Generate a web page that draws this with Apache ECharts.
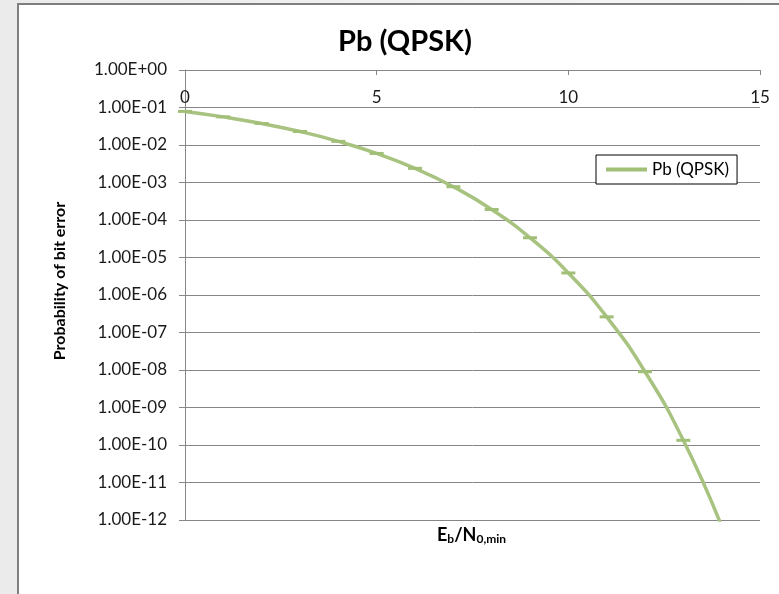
<!DOCTYPE html>
<html>
<head>
<meta charset="utf-8">
<script src="https://cdn.jsdelivr.net/npm/echarts@6/dist/echarts.min.js"></script>
<style>
  html, body { margin: 0; padding: 0; width: 779px; height: 594px; overflow: hidden;
    background: linear-gradient(to right, #ebebeb, #f6f6f6); }
  #frame { position: absolute; left: 17px; top: 3px; width: 800px; height: 650px;
    background: #fff; border: 2px solid #7f7f7f; }
  #chart { position: absolute; left: 0; top: 0; width: 779px; height: 594px; }
</style>
</head>
<body>
<div id="frame"></div>
<div id="chart"></div>
<script>
// Eb/N0 (dB)
const ebN0 = [0, 1, 2, 3, 4, 5, 6, 7, 8, 9, 10, 11, 12, 13, 14];
// Probability of bit error, QPSK
const pbQpsk = [7.865e-2, 5.628e-2, 3.751e-2, 2.288e-2, 1.250e-2, 5.954e-3, 2.388e-3,
  7.727e-4, 1.909e-4, 3.363e-5, 3.872e-6, 2.613e-7, 9.006e-9, 1.333e-10, 6.81e-13];
const yTickLabels = ['1.00E+00', '1.00E-01', '1.00E-02', '1.00E-03', '1.00E-04', '1.00E-05',
  '1.00E-06', '1.00E-07', '1.00E-08', '1.00E-09', '1.00E-10', '1.00E-11', '1.00E-12'];
const xTickLabels = ['0', '5', '10', '15'];

const FONT = 'Lato';
const chart = echarts.init(document.getElementById('chart'), null, { renderer: 'canvas' });
chart.setOption({
  backgroundColor: 'transparent',
  animation: false,
  title: {
    text: 'Pb (QPSK)',
    left: 400, top: 22, textAlign: 'center',
    textStyle: { fontFamily: FONT, fontSize: 29, fontWeight: 'bold', color: '#000' }
  },
  legend: {
    left: 596, top: 155,
    padding: [6, 8, 6, 10],
    borderColor: '#000', borderWidth: 1,
    backgroundColor: '#fff',
    itemWidth: 41, itemHeight: 4, icon: 'rect',
    textStyle: { fontFamily: FONT, fontSize: 17, color: '#000' },
    data: ['Pb (QPSK)']
  },
  grid: { left: 185, right: 19, top: 70, bottom: 74, containLabel: false },
  xAxis: {
    type: 'value', position: 'top', min: 0, max: 15, interval: 5,
    axisLine: { show: true, lineStyle: { color: '#868686', width: 1 } },
    axisTick: { show: true, inside: true, length: 5, lineStyle: { color: '#868686' } },
    axisLabel: { inside: true, margin: 19, fontFamily: FONT, fontSize: 17, color: '#1a1a1a',
      formatter: v => xTickLabels[Math.round(v / 5)] },
    splitLine: { show: false }
  },
  yAxis: {
    type: 'log', logBase: 10, min: 1e-12, max: 1, interval: 1,
    axisLine: { show: true, lineStyle: { color: '#868686', width: 1 } },
    axisTick: { show: true, length: 6, lineStyle: { color: '#868686' } },
    axisLabel: { margin: 18, fontFamily: FONT, fontSize: 17, color: '#1a1a1a',
      formatter: v => yTickLabels[Math.round(-Math.log10(v))] },
    splitLine: { show: true, lineStyle: { color: '#868686', width: 1 } }
  },
  graphic: [{
    type: 'text', x: 60, y: 281, rotation: Math.PI / 2,
    style: {
      text: 'Probability of bit error',
      fontFamily: FONT, fontSize: 16, fontWeight: 'bold', fill: '#000',
      align: 'center', verticalAlign: 'middle'
    }
  }, {
    type: 'text', left: 437, top: 526,
    style: {
      text: '{b|E}{s|b}{b|/N}{s|0,min}',
      rich: {
        b: { fontFamily: FONT, fontSize: 18, fontWeight: 'bold', fill: '#000', lineHeight: 20, verticalAlign: 'middle' },
        s: { fontFamily: FONT, fontSize: 12, fontWeight: 'bold', fill: '#000', lineHeight: 10, verticalAlign: 'bottom' }
      }
    }
  }],
  series: [{
    name: 'Pb (QPSK)', type: 'line', smooth: true, clip: true,
    data: ebN0.map((x, i) => [x, pbQpsk[i]]),
    lineStyle: { color: '#a7c37f', width: 3.5 },
    itemStyle: { color: '#a2bf78' },
    symbol: 'rect', symbolSize: [14, 3], showAllSymbol: true
  }]
});
</script>
</body>
</html>
